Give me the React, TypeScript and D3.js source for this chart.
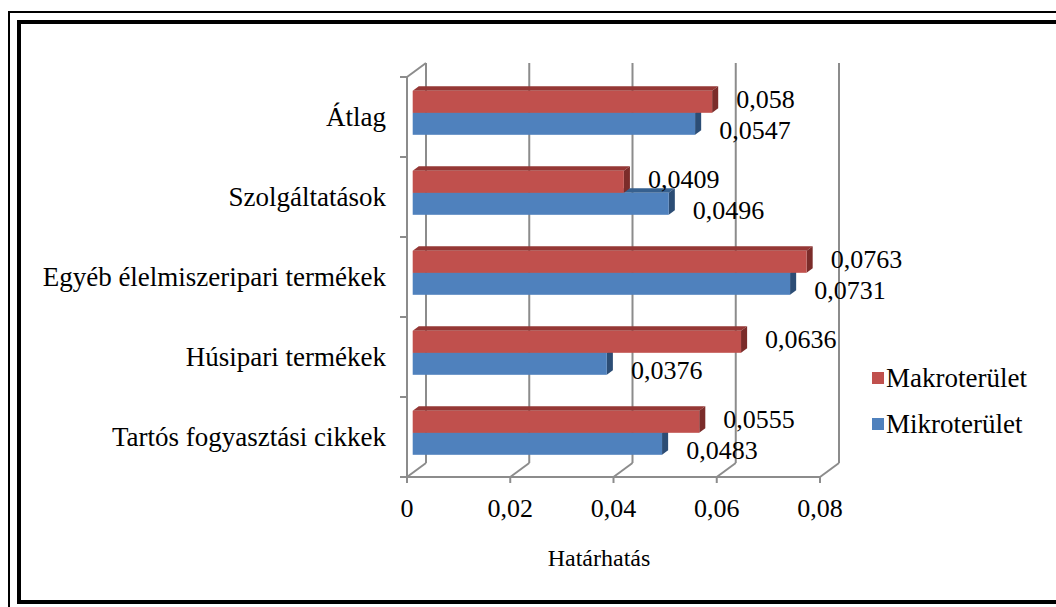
import * as d3 from "d3";
import React from "react";

const categories = [
  "Átlag",
  "Szolgáltatások",
  "Egyéb élelmiszeripari termékek",
  "Húsipari termékek",
  "Tartós fogyasztási cikkek",
];
const seriesNames = ["Makroterület", "Mikroterület"];
const makro = [0.058, 0.0409, 0.0763, 0.0636, 0.0555];
const mikro = [0.0547, 0.0496, 0.0731, 0.0376, 0.0483];
const xTicks = [0, 0.02, 0.04, 0.06, 0.08];
const xTitle = "Határhatás";

const colors = {
  Makroterület: { front: "#c0504d", top: "#953735", side: "#7b2c2a" },
  Mikroterület: { front: "#4f81bd", top: "#36608f", side: "#2c4d75" },
};

const FS = 26;
const W = 1056;
const H = 607;

// oblique 3d offsets (depth from front plane to back wall)
const DX = 19;
const DY = -14;

export default function App() {
  const x = d3.scaleLinear().domain([0, 0.08]).range([407, 820]);
  const y = d3
    .scaleBand<string>()
    .domain(categories)
    .range([77, 477])
    .paddingInner(0.45)
    .paddingOuter(0.225);
  const ys = d3.scaleBand<string>().domain(seriesNames).range([0, y.bandwidth()]);

  const x0 = x(0);
  const yTop = 77;
  const yBot = 477;

  // bar depth inside the box
  const zf = 0.3;
  const zb = 0.62;
  const fdx = DX * zf;
  const fdy = DY * zf;
  const bdx = DX * (zb - zf);
  const bdy = DY * (zb - zf);

  const rows = categories.map((c, i) => ({
    c,
    vals: [
      { s: "Mikroterület", v: mikro[i] },
      { s: "Makroterület", v: makro[i] },
    ],
  }));

  const grid = "#8c8c8c";
  const fmt = (v: number) => String(v).replace(".", ",");

  return (
    <svg width={W} height={H} style={{ position: "absolute", left: 0, top: 0, background: "#fff" }}>
      {/* frame */}
      <rect x={9} y={12} width={W + 20} height={H + 20} fill="none" stroke="#000" strokeWidth={2} />
      <rect x={19} y={22} width={W + 20} height={580} fill="none" stroke="#000" strokeWidth={4} />

      {/* back wall gridlines */}
      <g stroke={grid} strokeWidth={2} fill="none">
        {xTicks.map((t) => (
          <line key={"v" + t} x1={x(t) + DX} x2={x(t) + DX} y1={yTop + DY} y2={yBot + DY} />
        ))}
        {xTicks.map((t) => (
          <line key={"f" + t} x1={x(t)} x2={x(t) + DX} y1={yBot} y2={yBot + DY} />
        ))}
        {/* left wall */}
        <line x1={x0} x2={x0 + DX} y1={yTop} y2={yTop + DY} />
        <line x1={x0} x2={x0} y1={yTop} y2={yBot} />
        {/* floor front edge */}
        <line x1={x0} x2={x(0.08)} y1={yBot} y2={yBot} />
        {xTicks.map((t) => (
          <line key={"t" + t} x1={x(t)} x2={x(t)} y1={yBot} y2={yBot + 6} />
        ))}
        {d3.range(categories.length + 1).map((i) => {
          const yy = yTop + i * y.step();
          return <line key={"c" + i} x1={x0 - 7} x2={x0} y1={yy} y2={yy} />;
        })}
      </g>

      {/* bars */}
      {rows.map((r) => (
        <g key={r.c}>
          {r.vals.map((d) => {
            const col = colors[d.s as keyof typeof colors];
            const y1 = (y(r.c) ?? 0) + (ys(d.s) ?? 0) + fdy;
            const h = ys.bandwidth();
            const xa = x0 + fdx;
            const xb = x(d.v) + fdx;
            const top = `M${xa},${y1} L${xa + bdx},${y1 + bdy} L${xb + bdx},${y1 + bdy} L${xb},${y1} Z`;
            const side = `M${xb},${y1} L${xb + bdx},${y1 + bdy} L${xb + bdx},${y1 + h + bdy} L${xb},${y1 + h} Z`;
            return (
              <g key={d.s}>
                <path d={top} fill={col.top} />
                <path d={side} fill={col.side} />
                <rect x={xa} y={y1} width={xb - xa} height={h} fill={col.front} />
              </g>
            );
          })}
        </g>
      ))}

      <g fontFamily="Liberation Serif" fontSize={FS} fill="#000">
        {/* value labels */}
        {rows.map((r) =>
          r.vals.map((d) => {
            const y1 = (y(r.c) ?? 0) + (ys(d.s) ?? 0) + fdy;
            const cy = y1 + ys.bandwidth() / 2 + (d.s === "Makroterület" ? -3 : 6);
            return (
              <text key={r.c + d.s} x={x(d.v) + fdx + bdx + 18} y={cy} dy="0.35em">
                {fmt(d.v)}
              </text>
            );
          })
        )}

        {/* category labels */}
        {categories.map((c) => (
          <text key={c} x={386} y={(y(c) ?? 0) + y.bandwidth() / 2} dy="0.35em" textAnchor="end" fontSize={27}>
            {c}
          </text>
        ))}

        {/* x tick labels */}
        {xTicks.map((t) => (
          <text key={t} x={x(t)} y={508} dy="0.35em" textAnchor="middle">
            {fmt(t)}
          </text>
        ))}
        <text x={599} y={558} dy="0.35em" textAnchor="middle" fontSize={24}>
          {xTitle}
        </text>

        {/* legend */}
        {seriesNames.map((s, i) => (
          <g key={s} transform={`translate(872,${372 + i * 46})`}>
            <rect width={12} height={12} fill={colors[s as keyof typeof colors].front} />
            <text x={14} y={6} dy="0.35em" fontSize={27}>
              {s}
            </text>
          </g>
        ))}
      </g>
    </svg>
  );
}
